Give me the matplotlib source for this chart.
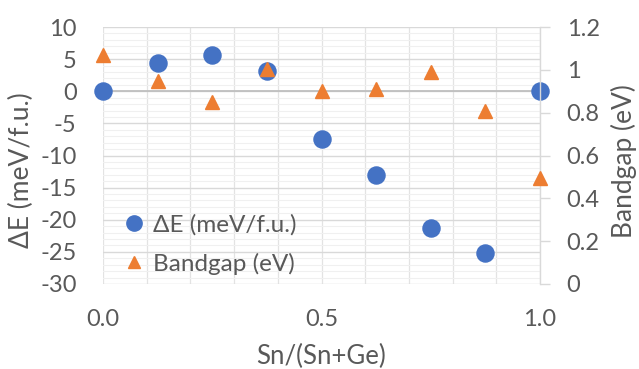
import matplotlib
matplotlib.use("Agg")
import matplotlib.pyplot as plt
from matplotlib.ticker import MultipleLocator
from matplotlib.lines import Line2D

plt.rcParams['font.family'] = ['Lato', 'DejaVu Sans']
plt.rcParams['axes.unicode_minus'] = False

x_frac = [0.0, 0.125, 0.25, 0.375, 0.5, 0.625, 0.75, 0.875, 1.0]
delta_e = [0.0, 4.4, 5.6, 3.2, -7.5, -13.1, -21.3, -25.1, 0.0]
bandgap = [1.07, 0.95, 0.85, 1.005, 0.90, 0.91, 0.99, 0.81, 0.495]

blue = '#4472C4'
orange = '#ED7D31'
txt = '#595959'
FS_TICK = 17
FS_LEG = 17.5
FS_TITLE = 19

W, H = 639, 369
fig = plt.figure(figsize=(W/100, H/100), dpi=100)
ax = fig.add_axes([103/W, 1-284/H, 437/W, 257/H])
ax2 = ax.twinx()

ax.set_xlim(0, 1.0)
ax.set_ylim(-30, 10)
ax2.set_ylim(0, 1.2)

ax.xaxis.set_major_locator(MultipleLocator(0.5))
ax.xaxis.set_minor_locator(MultipleLocator(0.1))
ax.yaxis.set_major_locator(MultipleLocator(5))
ax.yaxis.set_minor_locator(MultipleLocator(1))
ax2.yaxis.set_major_locator(MultipleLocator(0.2))

ax.grid(which='minor', axis='y', color='#F0F0F0', lw=0.8)
ax.grid(which='major', axis='y', color='#D9D9D9', lw=1.0)
ax.grid(which='both', axis='x', color='#E3E3E3', lw=0.9)
ax.axhline(0, color='#BFBFBF', lw=1.3, zorder=1)
ax.set_axisbelow(True)

for s in ['top', 'bottom', 'left', 'right']:
    ax.spines[s].set_visible(False)
for s in ['top', 'bottom', 'left']:
    ax2.spines[s].set_visible(False)
ax2.spines['right'].set_color('#D9D9D9')
ax2.spines['right'].set_linewidth(1.0)

ax.tick_params(axis='both', which='both', length=0, colors=txt, labelsize=FS_TICK)
ax.tick_params(axis='x', pad=18)
ax.tick_params(axis='y', pad=19)
ax2.tick_params(axis='y', which='major', length=7.2, width=1.0, color='#D9D9D9',
                colors=txt, labelsize=FS_TICK, pad=12)
ax.set_xticks([0.0, 0.5, 1.0])
ax.set_xticklabels(['0.0', '0.5', '1.0'])
ax2.set_yticks([0, 0.2, 0.4, 0.6, 0.8, 1.0, 1.2])
ax2.set_yticklabels(['0', '0.2', '0.4', '0.6', '0.8', '1', '1.2'])

ax.set_xlabel('Sn/(Sn+Ge)', color=txt, fontsize=18.5)
ax.set_ylabel('ΔE (meV/f.u.)', color=txt, fontsize=FS_TITLE)
ax2.set_ylabel('Bandgap (eV)', color=txt, fontsize=FS_TITLE)
ax.xaxis.set_label_coords(0.5, (284-344)/257)
ax.yaxis.set_label_coords((34-103)/437, (284-170)/257)
ax2.yaxis.set_label_coords((611-103)/437, (284-161)/257)

ax.plot(x_frac, delta_e, 'o', color=blue, ms=12.3, clip_on=False, zorder=3)
ax2.plot(x_frac, bandgap, '^', color=orange, ms=9.8, clip_on=False, zorder=3)

handles = [Line2D([], [], marker='o', color=blue, ls='none', ms=11),
           Line2D([], [], marker='^', color=orange, ls='none', ms=9)]
leg = ax2.legend(handles, ['ΔE (meV/f.u.)', 'Bandgap (eV)'], loc='center left',
                 bbox_to_anchor=(121.8/W, 1-244.5/H), bbox_transform=fig.transFigure,
                 frameon=False, fontsize=FS_LEG, handlelength=1.0,
                 handletextpad=0.28, labelspacing=0.7, borderpad=0.0,
                 borderaxespad=0.0)
for t in leg.get_texts():
    t.set_color(txt)

fig.savefig('out.png', dpi=100)
